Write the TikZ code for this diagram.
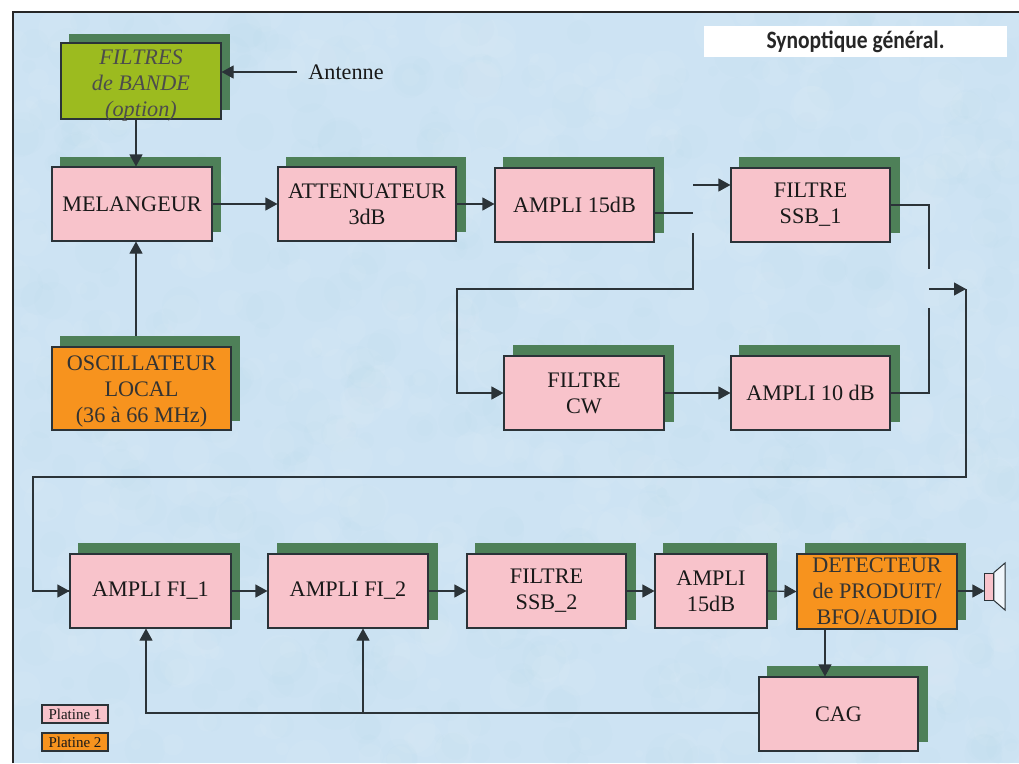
\documentclass[tikz,border=0pt]{standalone}
\usepackage{fontspec}
\setmainfont{Liberation Serif}
\newfontfamily\titlefont[FakeStretch=0.86]{Carlito}
\usetikzlibrary{arrows.meta,calc}
\definecolor{bgblue}{HTML}{CDE3F3}
\definecolor{bgdark}{HTML}{B5D6EE}
\definecolor{bglight}{HTML}{E6F0F8}
\definecolor{boxpink}{HTML}{F8C3CB}
\definecolor{boxorange}{HTML}{F7931E}
\definecolor{boxgreen}{HTML}{9CBB1F}
\definecolor{shadowgreen}{HTML}{4E8058}
\definecolor{inkdark}{HTML}{2B3338}
\tikzset{
  x=1pt,y=1pt,
  boxbase/.style={draw=inkdark,line width=1.1pt,inner sep=0pt,align=center,text=black!90,
     font=\fontsize{22.2}{26}\selectfont},
  pinkbox/.style={boxbase,fill=boxpink},
  orangebox/.style={boxbase,fill=boxorange,text=black!80},
  greenbox/.style={boxbase,fill=boxgreen,text=black!70,font=\fontsize{22.2}{26}\selectfont\itshape},
  legendbox/.style={boxbase,font=\fontsize{15}{18}\selectfont},
  shadowbox/.style={fill=shadowgreen,inner sep=0pt},
  wire/.style={draw=inkdark,line width=1.1pt},
  arrowwire/.style={wire,-{Triangle[length=12pt,width=13pt]}},
}
\newcommand{\shadowat}[5]{%
  \node[shadowbox,minimum width={(#4-#2)*1pt},minimum height={(#5-#3)*1pt}] (#1) at ({(#2+#4)/2},{-(#3+#5)/2}) {};}
\newcommand{\boxat}[7]{%
  \node[#6,minimum width={(#4-#2)*1pt},minimum height={(#5-#3)*1pt}] (#1) at ({(#2+#4)/2},{-(#3+#5)/2}) {#7};}
\newcommand{\lowered}[2]{\raisebox{#1}[0pt][0pt]{\parbox{150pt}{\centering #2}}}
\begin{document}
\begin{tikzpicture}
\useasboundingbox (0,0) rectangle (1019,-763);
\fill[white] (0,0) rectangle (1019,-763);
\begin{scope}
\clip (13,-12) rectangle (1019,-763);
\fill[bgblue] (13,-12) rectangle (1019,-763);
\pgfmathsetseed{4711}
\foreach \i in {1,...,1100}{
  \pgfmathsetmacro\px{13+1006*rnd}
  \pgfmathsetmacro\py{-12-751*rnd}
  \pgfmathsetmacro\pr{4+20*rnd}
  \pgfmathsetmacro\pc{rnd}
  \ifdim\pc pt<0.5pt
    \fill[bgdark,opacity=.07] (\px,\py) circle[radius=\pr];
  \else
    \fill[bglight,opacity=.09] (\px,\py) circle[radius=\pr];
  \fi
}
\end{scope}
% frame (top and left only)
\draw[draw=black!85,line width=1.6pt] (13,-763) -- (13,-12) -- (1019,-12);
% title
\node[fill=white,inner sep=0pt,minimum width=303pt,minimum height=31pt,text=black!85,
      font=\titlefont\bfseries\fontsize{25}{26}\selectfont] (title) at (855.5,-41.5) {Synoptique général.};
% shadows
\shadowat{filts}{69}{34}{230}{110}
\shadowat{mels}{60}{157}{221}{232}
\shadowat{atts}{286}{157}{466}{232}
\shadowat{a15s}{503}{157}{664}{233}
\shadowat{ssb1s}{739}{157}{900}{233}
\shadowat{oscs}{60}{336}{240}{421}
\shadowat{cws}{513}{345}{674}{422}
\shadowat{a10s}{739}{345}{900}{422}
\shadowat{fi1s}{78}{543}{240}{620}
\shadowat{fi2s}{277}{543}{438}{620}
\shadowat{ssb2s}{475}{543}{636}{620}
\shadowat{a15bs}{663}{543}{777}{620}
\shadowat{dets}{805}{543}{966}{620}
\shadowat{cags}{767}{666}{928}{742}
% boxes
\boxat{filt}{61}{43}{221}{119}{greenbox}{\lowered{-9.5pt}{FILTRES\\de BANDE\\(option)}}
\boxat{mel}{52}{167}{212}{241}{pinkbox}{MELANGEUR}
\boxat{att}{278}{167}{456}{241}{pinkbox}{ATTENUATEUR\\3dB}
\boxat{a15}{495}{168}{654}{242}{pinkbox}{AMPLI 15dB}
\boxat{ssb1}{731}{168}{890}{242}{pinkbox}{FILTRE\\SSB\_1}
\boxat{osc}{52}{347}{231}{430}{orangebox}{\lowered{-8.5pt}{OSCILLATEUR\\LOCAL\\(36 à 66 MHz)}}
\boxat{cw}{504}{356}{664}{430}{pinkbox}{FILTRE\\CW}
\boxat{a10}{731}{356}{890}{430}{pinkbox}{AMPLI 10 dB}
\boxat{fi1}{70}{554}{231}{628}{pinkbox}{AMPLI FI\_1}
\boxat{fi2}{268}{554}{428}{628}{pinkbox}{AMPLI FI\_2}
\boxat{ssb2}{467}{554}{626}{628}{pinkbox}{FILTRE\\SSB\_2}
\boxat{a15b}{655}{554}{767}{628}{pinkbox}{AMPLI\\15dB}
\boxat{det}{797}{554}{957}{629}{orangebox}{DETECTEUR\\de PRODUIT/\\BFO/AUDIO}
\boxat{cag}{759}{677}{918}{751}{pinkbox}{CAG}
\boxat{leg1}{42}{705}{108}{723}{legendbox,fill=boxpink}{Platine 1}
\boxat{leg2}{42}{733}{108}{751}{legendbox,fill=boxorange}{Platine 2}
% antenna label
\node[font=\fontsize{22.2}{26}\selectfont,text=black!90,inner sep=0pt] (ant) at (346,-72) {Antenne};
% speaker
\node[draw=inkdark,line width=1pt,fill=boxpink,minimum width=8.5pt,minimum height=27pt,inner sep=0pt] (spk) at (989.2,-586.5) {};
\draw[draw=inkdark,line width=1pt,fill=bglight!60!white] (spk.north east) -- (1005,-563) -- (1005,-610) -- (spk.south east) -- cycle;
% free ends
\coordinate (antend) at (297,-72);
\coordinate (s1) at (693,-213);
\coordinate (s2) at (693,-185);
\coordinate (s3) at (693,-233);
\coordinate (c1) at (693,-289);
\coordinate (c2) at (457,-289);
\coordinate (m2) at (929,-269);
\coordinate (m3) at (929,-289);
\coordinate (m4) at (966,-289);
\coordinate (m5) at (929,-308);
\coordinate (r1) at (966,-477);
\coordinate (r2) at (33,-477);
\coordinate (fb1) at (146,-713);
\coordinate (fb2) at (363,-713);
% connectors
\draw[arrowwire] (antend) -- ([yshift=9pt]filt.east);
\draw[arrowwire] ([xshift=-5pt]filt.south) -- ([xshift=4pt]mel.north);
\draw[arrowwire] (mel.south |- oscs.north) ++(4pt,0) -- ([xshift=4pt]mel.south);
\draw[arrowwire] (mel.east) -- (mel.east -| att.west);
\draw[arrowwire] (att.east) -- (att.east -| a15.west);
\draw[wire] (a15.east |- s1) -- (s1);
\draw[arrowwire] (s2) -- (s2 -| ssb1.west);
\draw[arrowwire] (s3) -- (c1) -- (c2) |- (cw.west);
\draw[wire] (ssb1.east) -| (m2);
\draw[wire] (m5) |- (a10.east);
\draw[arrowwire] (m3) -- (m4);
\draw[arrowwire] (cw.east) -- (a10.west);
\draw[wire] (m4) -- (r1) -- (r2) |- (fi1.west);
\draw[arrowwire] (r2) |- (fi1.west);
\draw[arrowwire] (fi1.east) -- (fi2.west);
\draw[arrowwire] (fi2.east) -- (ssb2.west);
\draw[arrowwire] (ssb2.east) -- (a15b.west);
\draw[arrowwire] (a15b.east) -- (det.west);
\draw[arrowwire] (det.east |- fi1.east) -- (spk.west |- fi1.east);
\draw[arrowwire] ([xshift=-52pt]det.south) -- ([xshift=-13.5pt]cag.north);
\draw[arrowwire] (cag.west |- fb1) -- (fb1) -- (fb1 |- fi1.south);
\draw[arrowwire] (fb2) -- (fb2 |- fi2.south);
\end{tikzpicture}
\end{document}
